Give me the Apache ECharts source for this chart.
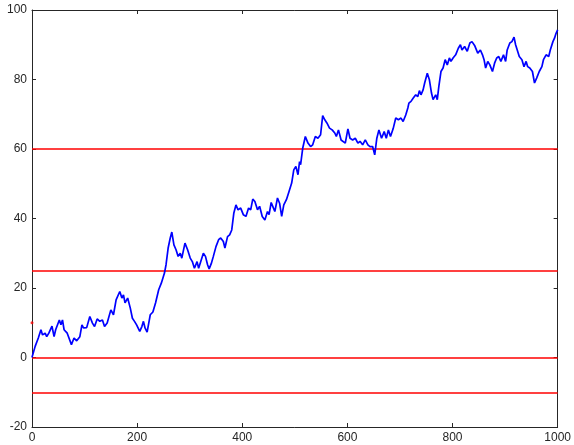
<!DOCTYPE html>
<html>
<head>
<meta charset="utf-8">
<script src="https://cdn.jsdelivr.net/npm/echarts@6/dist/echarts.min.js"></script>
<style>
  html, body { margin: 0; padding: 0; background: #fff; }
  #chart { width: 574px; height: 445px; }
</style>
</head>
<body>
<div id="chart"></div>
<script>
// random walk (step index, value)
const walkX = [0, 1, 6, 12, 17, 20, 25, 28, 32, 38, 42, 45, 52, 55, 58, 61, 67, 75, 80, 85, 91, 95, 98, 104, 110, 115, 119, 124, 129, 134, 138, 143, 150, 155, 160, 167, 171,
  174, 177, 182, 187, 191, 195, 199, 205, 209, 212, 215, 219, 225, 230, 235, 241, 246, 252, 255, 259, 263, 266, 270, 274, 278, 282, 285, 291, 296, 301, 305, 309, 314, 317, 326, 330, 334, 337,
  341, 345, 350, 355, 359, 364, 367, 372, 376, 380, 384, 388, 392, 397, 402, 407, 412, 416, 420, 424, 429, 433, 438, 443, 448, 451, 455, 458, 462, 467, 471, 475, 479, 484, 489, 494, 498, 502, 506, 509,
  511, 515, 520, 525, 530, 534, 539, 544, 549, 553, 557, 561, 566, 571, 576, 579, 583, 588, 591, 596, 601, 605, 610, 615, 620, 624, 629, 634, 639, 643, 648, 652, 656, 660, 665, 670, 674, 678, 682,
  687, 692, 697, 702, 706, 711, 715, 717, 721, 725, 730, 734, 737, 740, 744, 747, 752, 756, 760, 763, 768, 771, 774, 778, 782, 786, 790, 794, 797, 801, 806, 811, 815, 818, 823, 828, 833, 837,
  842, 848, 853, 857, 860, 863, 867, 871, 876, 880, 884, 888, 892, 897, 901, 904, 909, 913, 917, 920, 923, 927, 932, 936, 940, 943, 947, 952, 956, 960, 965, 970, 973, 978, 983, 986, 991, 994, 997, 1000];
const walkY = [0, 0.6, 3.2, 5.6, 8, 6.5, 7, 6, 7, 9, 6, 8, 10.8, 9.4, 10.8, 8, 7, 3.7, 5.6, 4.8, 6, 9.4, 8.5, 8.6, 11.8, 9.9, 8.9, 11.1, 10.4, 10.8, 8.9, 9.9, 13.7, 12.3, 16.6, 19, 17.1,
  18, 15.7, 17.1, 14.2, 11.3, 10.4, 9.4, 7.5, 8.9, 10.4, 8.5, 7.3, 12.3, 13.1, 15.7, 19.5, 21.4, 24.3, 26.7, 31.5, 34.4, 36.1, 32.4, 31, 29.1, 30, 28.6, 32.9, 31, 28.6, 27.6, 25.7, 27.6, 25.7, 30, 29.1, 26.7, 25.5,
  27, 29.1, 31.9, 33.9, 34.4, 33.4, 31.5, 34.8, 35.3, 36.7, 41.6, 43.9, 42.5, 43, 41.1, 40.6, 43, 42.5, 45.6, 44.9, 42.5, 43.5, 40.6, 39.6, 42, 41.1, 44.6, 43.5, 42, 45.9, 44.4, 40.6, 43.9, 45.4, 47.8, 50.2, 54, 55, 52.6, 56.4,
  55.5, 60.2, 63.6, 61.7, 60.7, 61.2, 63.6, 63.1, 64.1, 69.6, 68.4, 67.5, 66, 65.5, 64.6, 63.6, 65.5, 62.6, 63.1, 61.7, 65.8, 63.1, 62.6, 63.1, 61.7, 62.2, 61.2, 62.6, 61.2, 60.7, 60.7, 58.3, 63.1, 65.5, 63.1, 65, 63.1, 65.5, 63.6,
  65.8, 68.9, 68.4, 68.9, 67.9, 69.8, 71.8, 73.2, 73.7, 74.6, 75.6, 75.1, 76.8, 75.6, 77, 79, 81.8, 79.9, 76.1, 74.2, 75.6, 74.2, 78, 82.3, 83.3, 85.7, 84.2, 86.2, 85.2, 86.2, 87.1, 89, 90, 88.5, 89.5, 88.1, 90.5, 90.9,
  89.8, 87.6, 88.5, 87.1, 85.7, 83.3, 85.2, 84.2, 82.3, 84.7, 86.2, 86.6, 85.2, 87.1, 85.2, 88.5, 90.5, 90.9, 92.2, 90, 90.5, 86.6, 85.7, 83.7, 85.2, 83.7, 83.3, 82.3, 79, 80.4, 82.3, 83.7, 85.7, 87.1, 86.6, 88.5, 90.9, 91.9, 93.3, 94.3];

// horizontal red reference levels
const levels = [60, 25, 0, -10];
// single red marker on the left edge
const markerPoint = [0, 10];

const chart = echarts.init(document.getElementById("chart"), null, { renderer: "canvas" });

const axisCol = "#262626";
const font = "Liberation Sans";

const baseX = {
  type: "value", min: 0, max: 1000, interval: 200,
  axisLine: { show: true, onZero: false, lineStyle: { color: axisCol, width: 1 } },
  axisTick: { show: true, inside: true, length: 4, lineStyle: { color: axisCol } },
  splitLine: { show: false },
};
const baseY = {
  type: "value", min: -20, max: 100, interval: 20,
  axisLine: { show: true, onZero: false, lineStyle: { color: axisCol, width: 1 } },
  axisTick: { show: true, inside: true, length: 4, lineStyle: { color: axisCol } },
  splitLine: { show: false },
};

chart.setOption({
  animation: false,
  backgroundColor: "#fff",
  grid: { left: 32, right: 14, top: 10, bottom: 18, containLabel: false },
  xAxis: [
    { ...baseX, position: "bottom",
      axisLabel: { color: axisCol, fontFamily: font, fontSize: 12, margin: 5, formatter: (v) => String(v) } },
    { ...baseX, position: "top", axisLabel: { show: false } },
  ],
  yAxis: [
    { ...baseY, position: "left",
      axisLabel: { color: axisCol, fontFamily: font, fontSize: 12, margin: 5 } },
    { ...baseY, position: "right", axisLabel: { show: false } },
  ],
  series: [
    {
      type: "line",
      data: walkX.map((x, i) => [x, walkY[i]]),
      symbol: "none",
      color: "#0000ff",
      lineStyle: { color: "#0000ff", width: 1.7 },
      z: 3,
      markLine: {
        silent: true,
        symbol: "none",
        label: { show: false },
        lineStyle: { color: "#ff0000", width: 1.5, type: "solid" },
        data: levels.map((v) => ({ yAxis: v })),
        z: 2,
      },
    },
    {
      type: "scatter",
      data: [markerPoint],
      symbol: "circle",
      symbolSize: 3,
      itemStyle: { color: "#ff0000" },
      z: 4,
    },
  ],
});
</script>
</body>
</html>
